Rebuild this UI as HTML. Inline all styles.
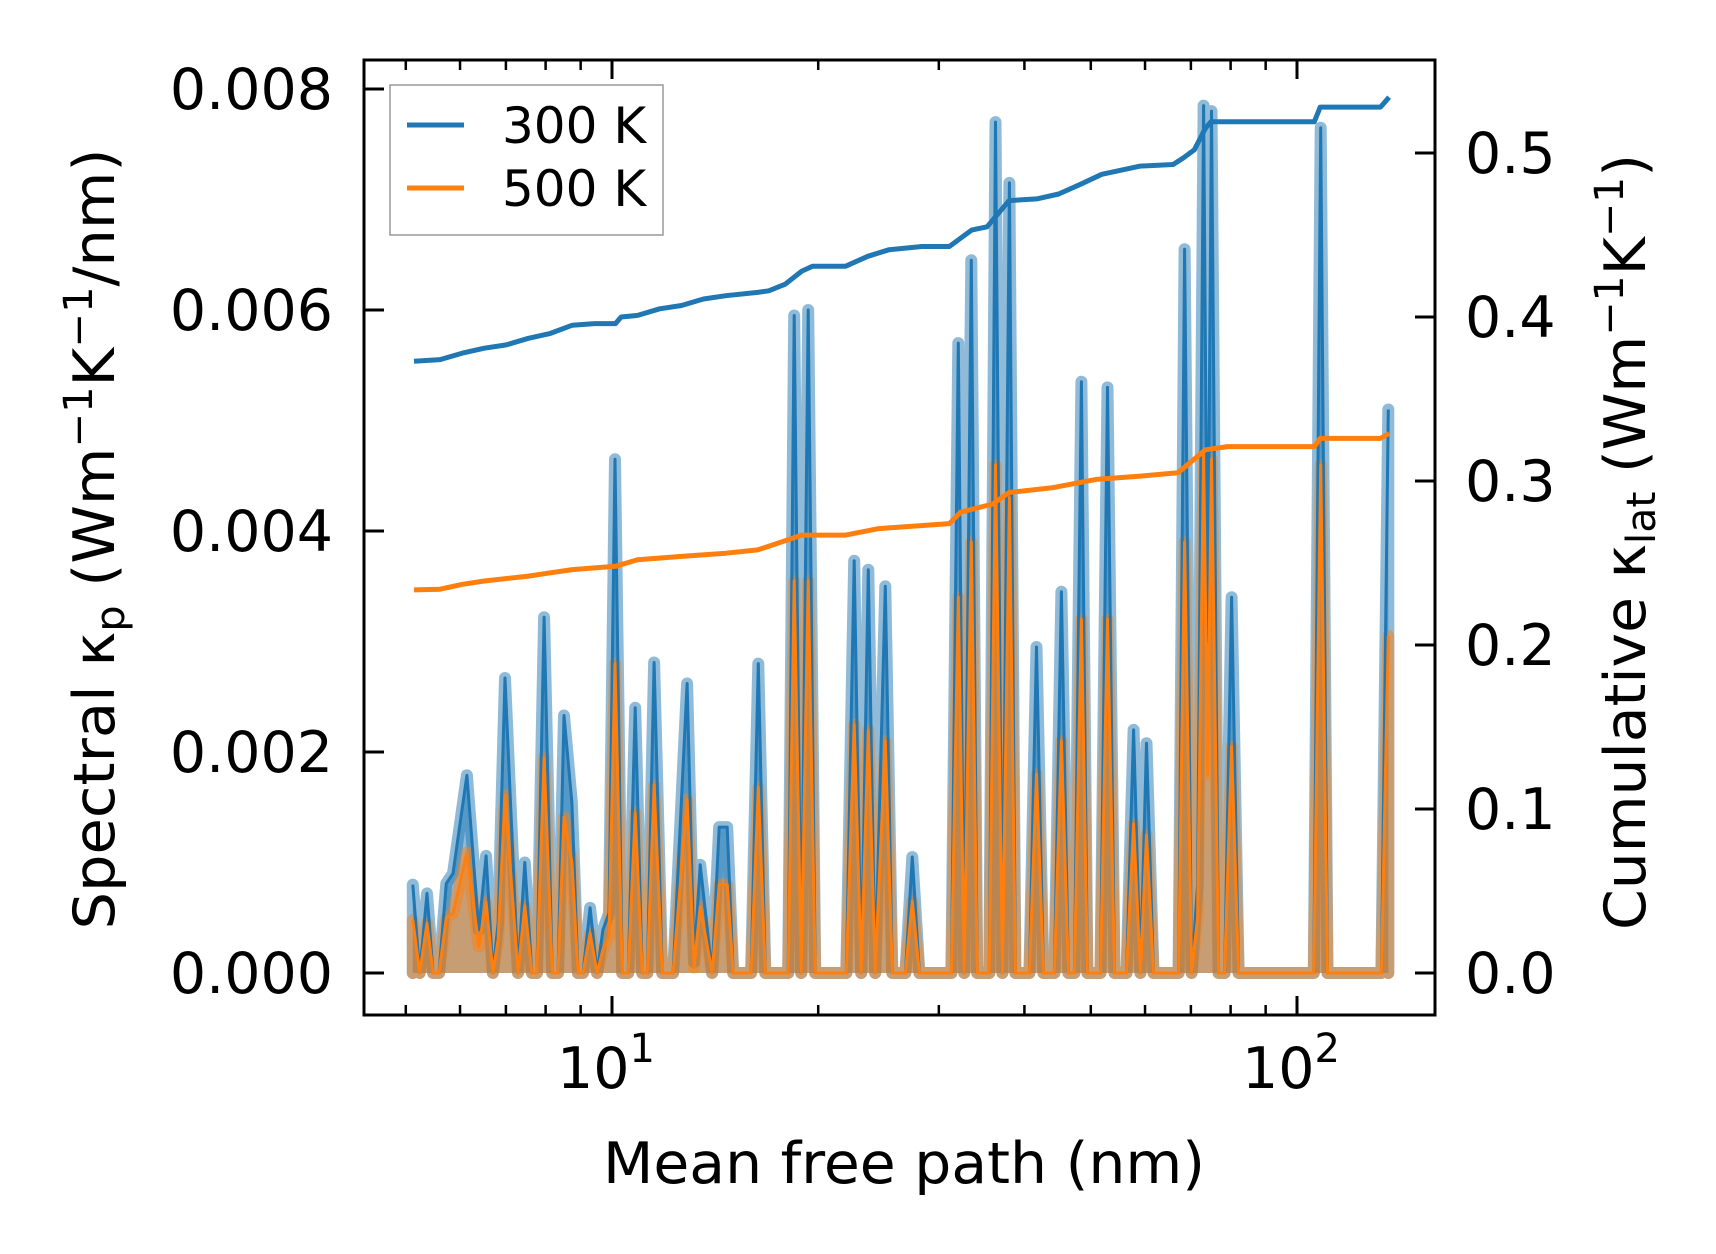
<!DOCTYPE html>
<html><head><meta charset="utf-8"><style>
html,body{margin:0;padding:0;background:#fff;}
svg{display:block;font-family:"DejaVu Sans","Liberation Sans",sans-serif;}
</style></head><body>
<svg id="chart" width="1716" height="1254" viewBox="0 0 1716 1254" xmlns="http://www.w3.org/2000/svg">
<rect width="1716" height="1254" fill="#fff"/>
<g id="plot"></g>
<g id="axes"></g>
<text x="904" y="1183" font-size="57" text-anchor="middle" textLength="602" lengthAdjust="spacingAndGlyphs">Mean free path (nm)</text>
<text transform="translate(114,539) rotate(-90)" font-size="57" text-anchor="middle" textLength="781" lengthAdjust="spacingAndGlyphs">Spectral κ<tspan font-size="40" dy="10">p</tspan><tspan dy="-10"> (Wm</tspan><tspan font-size="40" dy="-22">−1</tspan><tspan dy="22">K</tspan><tspan font-size="40" dy="-22">−1</tspan><tspan dy="22">/nm)</tspan></text>
<text transform="translate(1645,542) rotate(-90)" font-size="57" text-anchor="middle" textLength="776" lengthAdjust="spacingAndGlyphs">Cumulative κ<tspan font-size="40" dy="10">lat</tspan><tspan dy="-10"> (Wm</tspan><tspan font-size="40" dy="-22">−1</tspan><tspan dy="22">K</tspan><tspan font-size="40" dy="-22">−1</tspan><tspan dy="22">)</tspan></text>
<g>
<rect x="390" y="85" width="273" height="150" fill="#fff" fill-opacity="0.8" stroke="#999" stroke-width="1.5"/>
<line x1="407" x2="464" y1="125" y2="125" stroke="#1f77b4" stroke-width="5"/>
<text x="502" y="143" font-size="50">300 K</text>
<line x1="407" x2="464" y1="188" y2="188" stroke="#ff7f0e" stroke-width="5"/>
<text x="502" y="206" font-size="50">500 K</text>
</g>
</svg>
<script>
const mfp = [5.12,5.24,5.37,5.48,5.59,5.73,5.86,6.14,6.39,6.55,6.70,6.82,6.98,7.29,7.46,7.64,7.77,7.96,8.18,8.34,8.51,8.74,8.92,9.07,9.29,9.51,9.70,9.90,10.10,10.35,10.56,10.81,11.07,11.26,11.52,11.84,12.28,12.87,13.18,13.45,14.0,14.34,14.73,15.03,15.96,16.35,16.74,17.37,18.08,18.45,18.89,19.34,19.80,21.98,22.57,23.11,23.67,24.22,25.06,25.66,26.81,27.44,28.10,31.29,32.03,32.67,33.46,34.13,35.55,36.29,37.15,38.03,38.81,40.68,41.66,42.63,44.24,45.30,46.38,47.32,48.44,49.44,51.65,52.89,54.15,56.38,57.73,59.07,60.30,61.73,67.16,68.54,70.16,71.60,73.05,74.04,75.02,76.84,78.40,80.26,82.17,105.8,108.3,110.8,132.8,135.9];
const spec300 = [0.80,0,0.72,0,0,0.81,0.90,1.79,0.39,1.06,0,0.45,2.67,0,1.00,0,0,3.22,0,0,2.33,1.54,0,0,0.59,0,0.39,0.54,4.65,0,0,2.40,0,0,2.81,0,0,2.62,0.10,0.98,0,1.32,1.32,0,0,2.80,0,0,0,5.95,0,6.00,0,0,3.73,0,3.65,0,3.50,0,0,1.05,0,0,5.70,0,6.45,0,0,7.70,0,7.15,0,0,2.95,0,0,3.45,0,0,5.35,0,0,5.30,0,0,2.20,0,2.08,0,0,6.55,0,0.8,7.85,3.0,7.80,0,0,3.40,0,0,7.65,0,0,5.10];
const spec500 = [0.48,0,0.45,0,0,0.50,0.54,1.09,0.24,0.64,0,0.30,1.61,0,0.61,0,0,1.95,0,0,1.41,1.00,0,0,0.36,0,0.21,0.33,2.80,0,0,1.45,0,0,1.70,0,0,1.57,0.05,0.60,0,0.80,0.80,0,0,1.68,0,0,0,3.55,0,3.55,0,0,2.25,0,2.20,0,2.10,0,0,0.65,0,0,3.40,0,3.90,0,0,4.60,0,4.30,0,0,1.80,0,0,2.10,0,0,3.20,0,0,3.20,0,0,1.35,0,1.25,0,0,3.90,0,0.5,4.70,1.8,4.65,0,0,2.05,0,0,4.60,0,0,3.05];
const cumX300 = [5.14,5.61,6.05,6.51,7.01,7.55,8.13,8.75,9.43,10.12,10.31,10.90,11.74,12.63,13.60,14.66,16.32,16.94,17.90,18.93,19.63,21.94,23.63,25.36,28.34,31.09,32.27,33.49,35.28,36.62,37.99,41.68,44.89,48.33,51.88,59.06,65.96,68.25,70.82,73.49,74.86,79.15,106.0,108.1,132.4,136.3];
const cum300 = [0.373,0.374,0.378,0.381,0.383,0.387,0.390,0.395,0.396,0.396,0.400,0.401,0.405,0.407,0.411,0.413,0.415,0.416,0.420,0.428,0.431,0.431,0.437,0.441,0.443,0.443,0.448,0.453,0.455,0.463,0.471,0.472,0.475,0.481,0.487,0.492,0.493,0.497,0.502,0.515,0.519,0.519,0.519,0.528,0.528,0.534];
const cumX500 = [5.14,5.61,6.05,6.51,7.55,8.13,8.75,10.12,10.90,12.63,14.66,16.32,18.93,21.94,24.52,31.09,32.27,35.95,37.99,44.06,50.92,59.06,67.00,73.49,79.15,106.0,108.1,132.4,136.3];
const cum500 = [0.2336,0.234,0.237,0.239,0.242,0.244,0.246,0.248,0.252,0.254,0.256,0.258,0.267,0.267,0.271,0.274,0.281,0.286,0.293,0.296,0.301,0.303,0.305,0.319,0.321,0.321,0.326,0.326,0.329];
const yTicks = [0,0.002,0.004,0.006,0.008];
const yTickLabels = ["0.000","0.002","0.004","0.006","0.008"];
const y2Ticks = [0,0.1,0.2,0.3,0.4,0.5];
const y2TickLabels = ["0.0","0.1","0.2","0.3","0.4","0.5"];
const xMajor = [10,100];
const xMinor = [5,6,7,8,9,20,30,40,50,60,70,80,90];

const L=364,R=1435,T=60,B=1015;
const xs = v => 612 + (Math.log10(v)-1)*685;
const yc = v => 973 - v*1640;
const yv = v => 973 - v*110.5;
const NS="http://www.w3.org/2000/svg";
const plot=document.getElementById('plot'), axes=document.getElementById('axes');
function mk(tag,attrs,parent){const e=document.createElementNS(NS,tag);for(const k in attrs)e.setAttribute(k,attrs[k]);parent.appendChild(e);return e;}
function linePts(xa,ya,fx,fy){return xa.map((x,i)=>fx(x).toFixed(1)+','+fy(ya[i]).toFixed(1)).join(' ');}
function areaPts(xa,ya){return xs(xa[0]).toFixed(1)+','+yv(0)+' '+linePts(xa,ya,xs,yv)+' '+xs(xa[xa.length-1]).toFixed(1)+','+yv(0);}
const clip=mk('clipPath',{id:'cp'},plot);mk('rect',{x:L,y:T,width:R-L,height:B-T},clip);
const g=mk('g',{'clip-path':'url(#cp)'},plot);
let e;
e=mk('polygon',{points:areaPts(mfp,spec300),fill:'#1f77b4','fill-opacity':'0.5',stroke:'none'},g);


e=mk('polygon',{points:areaPts(mfp,spec500),fill:'#ff7f0e','fill-opacity':'0.5',stroke:'none'},g);


e=mk('polyline',{points:areaPts(mfp,spec300),fill:'none',stroke:'#1f77b4','stroke-opacity':'0.5','stroke-width':'12','stroke-linejoin':'round','stroke-linecap':'round'},g);


e=mk('polyline',{points:areaPts(mfp,spec500),fill:'none',stroke:'#ff7f0e','stroke-opacity':'0.5','stroke-width':'12','stroke-linejoin':'round','stroke-linecap':'round'},g);


e=mk('polyline',{points:linePts(mfp,spec300,xs,yv),fill:'none',stroke:'#1f77b4','stroke-width':'3','stroke-linejoin':'round'},g);


e=mk('polyline',{points:linePts(mfp,spec500,xs,yv),fill:'none',stroke:'#ff7f0e','stroke-width':'3','stroke-linejoin':'round'},g);


e=mk('polyline',{points:linePts(cumX300,cum300,xs,yc),fill:'none',stroke:'#1f77b4','stroke-width':'5','stroke-linejoin':'round'},g);


e=mk('polyline',{points:linePts(cumX500,cum500,xs,yc),fill:'none',stroke:'#ff7f0e','stroke-width':'5','stroke-linejoin':'round'},g);


e=mk('rect',{x:L,y:T,width:R-L,height:B-T,fill:'none',stroke:'#000','stroke-width':'3'},axes);


yTicks.forEach((v,i)=>{const y=973-v*1000*110.5;
 e=mk('line',{x1:L,x2:L+20,y1:y,y2:y,stroke:'#000','stroke-width':'3'},axes);
 
 
 e=mk('text',{x:333,y:y+20,'font-size':'57','text-anchor':'end'},axes);e.textContent=yTickLabels[i];
 
 
});
y2Ticks.forEach((v,i)=>{const y=yc(v);
 e=mk('line',{x1:R-20,x2:R,y1:y,y2:y,stroke:'#000','stroke-width':'3'},axes);
 
 
 e=mk('text',{x:1465,y:y+20,'font-size':'57'},axes);e.textContent=y2TickLabels[i];
 
 
});
xMajor.forEach((v,i)=>{const x=xs(v);
 e=mk('line',{x1:x,x2:x,y1:B,y2:B-19,stroke:'#000','stroke-width':'3'},axes);
 
 
 e=mk('line',{x1:x,x2:x,y1:T,y2:T+19,stroke:'#000','stroke-width':'3'},axes);
 
 
 e=mk('text',{x:x-6,y:1088,'font-size':'57','text-anchor':'middle'},axes);
 
 
 const t1=mk('tspan',{},e);t1.textContent='10';
 const t2=mk('tspan',{'font-size':'40',dy:'-26'},e);t2.textContent=String(Math.round(Math.log10(v)));
});
xMinor.forEach(v=>{const x=xs(v);
 e=mk('line',{x1:x,x2:x,y1:B,y2:B-10,stroke:'#000','stroke-width':'2.5'},axes);
 
 
 e=mk('line',{x1:x,x2:x,y1:T,y2:T+10,stroke:'#000','stroke-width':'2.5'},axes);
 
 
});
</script>
</body></html>
